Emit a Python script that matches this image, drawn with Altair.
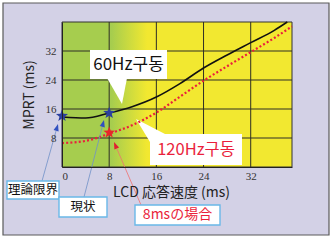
import math
import altair as alt
import pandas as pd

# ---------------- data ----------------
X_DOMAIN = [0, 39]
Y_DOMAIN = [0, 40]
X_TICKS = [0, 8, 16, 24, 32]
Y_TICKS = [8, 16, 24, 32]
GRID_X = [8, 16, 24, 32]
GRID_Y = [8, 16, 24, 32]

LCD_60 = [0, 4, 8, 12, 16, 20, 24, 28, 32, 36, 38.2]
MPRT_60 = [13.8, 13.5, 14.9, 16.7, 19.3, 23.0, 27.3, 30.9, 34.3, 37.7, 40.0]
LCD_120 = [0, 4, 8, 12, 16, 20, 24, 28, 32, 36, 39]
MPRT_120 = [6.6, 7.2, 9.2, 11.6, 15.0, 19.4, 23.8, 27.8, 31.7, 35.6, 38.8]

BLUE_STAR_X = [0, 8]
BLUE_STAR_Y = [14.1, 14.9]
RED_STAR_X = [8]
RED_STAR_Y = [9.5]

TXT_60 = "60Hz구동"
TXT_120 = "120Hz구동"
TXT_LIMIT = "理論限界"
TXT_NOW = "現状"
TXT_8MS = "8msの場合"
X_TITLE = "LCD 応答速度 (ms)"
Y_TITLE = "MPRT (ms)"

# ---------------- styles ----------------
GREEN = "#a6cd4e"
YELLOW = "#f2e830"
GRIDC = "#2e2e26"
BLUE = "#2b3f9e"
RED = "#ea1f3c"
BOXLINE = "#6ab8e8"
CJK = "Noto Sans CJK KR"
JP = "Noto Sans CJK JP"

xs = alt.Scale(domain=X_DOMAIN, nice=False, zero=False)
ys = alt.Scale(domain=Y_DOMAIN, nice=False, zero=False)
one = pd.DataFrame({"k": [0]})

axis_common = dict(zindex=2, ticks=False, grid=False, domainColor="#222", domainWidth=1,
                   labelFont="Liberation Serif", labelFontSize=11, labelColor="#333",
                   titleFont=JP, titleFontSize=14, titleFontWeight="normal",
                   titleColor="#222")
AX_X = alt.Axis(values=X_TICKS, labelPadding=3, titlePadding=4, titleX=109,
                **axis_common)
AX_Y = alt.Axis(values=Y_TICKS, labelPadding=6, titlePadding=9, **axis_common)


def X(f):
    return alt.X(f, type="quantitative", scale=xs, title=X_TITLE, axis=AX_X)


def Y(f):
    return alt.Y(f, type="quantitative", scale=ys, title=Y_TITLE, axis=AX_Y)


# custom 5-point star symbol in unit coordinates
pts = []
for i in range(10):
    r = 1.0 if i % 2 == 0 else 0.42
    a = math.radians(-90 + 36 * i)
    pts.append("{:.3f},{:.3f}".format(r * math.cos(a), r * math.sin(a)))
STAR = "M" + "L".join(pts) + "Z"

# frame around whole figure (pixel decoration)
frame = alt.Chart(one).mark_rect(fill="#d3d1e6", stroke="#5a5a5a", strokeWidth=1.2).encode(
    x=alt.value(-59), x2=alt.value(267), y=alt.value(-19), y2=alt.value(213))

# plot background gradient
bg_df = pd.DataFrame({"x0": [X_DOMAIN[0]], "x1": [X_DOMAIN[1]],
                      "y0": [Y_DOMAIN[0]], "y1": [Y_DOMAIN[1]]})
grad = alt.Gradient(gradient="linear", x1=0, x2=1, y1=0, y2=0,
                    stops=[alt.GradientStop(offset=0, color=GREEN),
                           alt.GradientStop(offset=0.215, color=GREEN),
                           alt.GradientStop(offset=0.37, color=YELLOW),
                           alt.GradientStop(offset=1, color=YELLOW)])
bg = alt.Chart(bg_df).mark_rect(color=grad, stroke="#333", strokeWidth=1).encode(
    x=X("x0"), x2="x1", y=Y("y0"), y2="y1")

gx = alt.Chart(pd.DataFrame({"g": GRID_X})).mark_rule(color=GRIDC, strokeWidth=1).encode(
    x=X("g"))
gy = alt.Chart(pd.DataFrame({"g": GRID_Y})).mark_rule(color=GRIDC, strokeWidth=1).encode(
    y=Y("g"))


# callouts (pixel decorations)
def poly(path, color="white"):
    return alt.Chart(one).mark_point(shape=path, size=4, filled=True, color=color,
                                     opacity=1, strokeWidth=0).encode(
        x=alt.value(0), y=alt.value(0))


def box(x0, x1, y0, y1, stroke=None, sw=0):
    kw = dict(fill="white")
    if stroke:
        kw.update(stroke=stroke, strokeWidth=sw)
    return alt.Chart(one).mark_rect(**kw).encode(
        x=alt.value(x0), x2=alt.value(x1), y=alt.value(y0), y2=alt.value(y1))


def label(t, x, y, size, color, font):
    return alt.Chart(one).mark_text(text=t, fontSize=size, color=color, font=font,
                                    baseline="middle", align="center").encode(
        x=alt.value(x), y=alt.value(y))


def arrow(x0, y0, x1, y1, color, head):
    dx, dy = x1 - x0, y1 - y0
    L = math.hypot(dx, dy)
    ux, uy = dx / L, dy / L
    nx, ny = -uy, ux
    bx, by = x1 - 7 * ux, y1 - 7 * uy
    path = "M{:.1f},{:.1f}L{:.1f},{:.1f}L{:.1f},{:.1f}Z".format(
        x1, y1, bx + 2.6 * nx, by + 2.6 * ny, bx - 2.6 * nx, by - 2.6 * ny)
    ln = alt.Chart(one).mark_rule(color=color, strokeWidth=0.8).encode(
        x=alt.value(x0), y=alt.value(y0), x2=alt.value(bx), y2=alt.value(by))
    return [ln, poly(path, head)]


c60 = [poly("M45,56L65,56L60,82Z"), box(28, 105, 28, 57),
       label(TXT_60, 66.5, 42.5, 17, "#111", CJK)]
c120 = [poly("M74,97L103,112L88,120Z"), box(88, 180, 112, 143),
        label(TXT_120, 134, 128, 16.5, RED, CJK)]

# curves
l60 = alt.Chart(pd.DataFrame({"x": LCD_60, "y": MPRT_60})).mark_line(
    color="#111", strokeWidth=1.6, interpolate="monotone").encode(x=X("x"), y=Y("y"))
l120 = alt.Chart(pd.DataFrame({"x": LCD_120, "y": MPRT_120})).mark_line(
    color=RED, strokeWidth=2.2, strokeDash=[2, 2.2], interpolate="monotone").encode(
    x=X("x"), y=Y("y"))

sb = alt.Chart(pd.DataFrame({"x": BLUE_STAR_X, "y": BLUE_STAR_Y})).mark_point(
    shape=STAR, filled=True, size=160, color=BLUE, opacity=1, strokeWidth=0).encode(
    x=X("x"), y=Y("y"))
sr = alt.Chart(pd.DataFrame({"x": RED_STAR_X, "y": RED_STAR_Y})).mark_point(
    shape=STAR, filled=True, size=150, color="#e8262a", opacity=1, strokeWidth=0).encode(
    x=X("x"), y=Y("y"))

# bottom labels with arrows
notes = []
notes += arrow(-20, 159, -4, 102, "#7090c8", "#3050c0")
notes += arrow(22, 175, 42, 98, "#7090c8", "#3050c0")
notes += arrow(79, 183, 52, 120, "#f07070", "#e02030")
notes += [box(-55, -3, 159, 177, BOXLINE, 1.4), label(TXT_LIMIT, -29, 168, 12.5, "#111", JP),
          box(-3, 45, 175, 195, BOXLINE, 1.4), label(TXT_NOW, 21, 185, 12.5, "#111", JP),
          box(73, 158, 183, 203, BOXLINE, 1.4), label(TXT_8MS, 115.5, 193, 14, RED, JP)]

chart = alt.layer(frame, bg, gx, gy, *c60, *c120, l60, l120, sb, sr, *notes).properties(
    width=230, height=145,
    padding={"left": 62, "top": 22, "right": 40, "bottom": 75},
    autosize=alt.AutoSizeParams(type="none"),
    background="white",
).configure_view(stroke=None)

chart.save("out.html", embed_options={"renderer": "svg", "actions": False})
